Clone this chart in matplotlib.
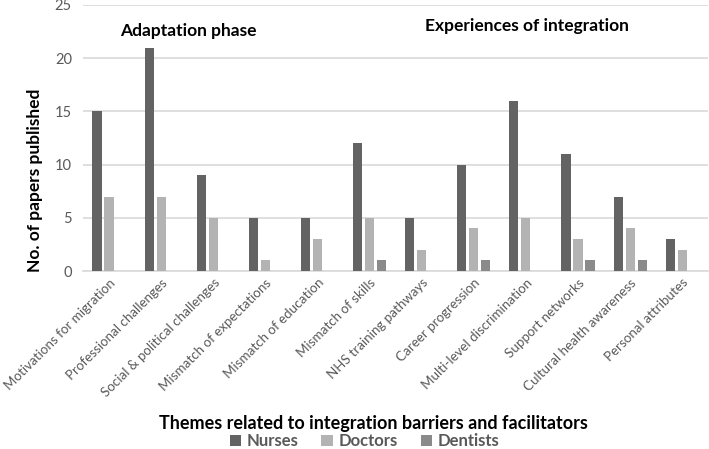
import numpy as np
import matplotlib
matplotlib.use("Agg")
import matplotlib.pyplot as plt

plt.rcParams["font.family"] = ["Lato", "DejaVu Sans"]

themes = [
    "Motivations for migration", "Professional challenges",
    "Social & political challenges", "Mismatch of expectations",
    "Mismatch of education", "Mismatch of skills", "NHS training pathways",
    "Career progression", "Multi-level discrimination", "Support networks",
    "Cultural health awareness", "Personal attributes",
]
nurses = [15, 21, 9, 5, 5, 12, 5, 10, 16, 11, 7, 3]
doctors = [7, 7, 5, 1, 3, 5, 2, 4, 5, 3, 4, 2]
dentists = [0, 0, 0, 0, 0, 1, 0, 1, 0, 1, 1, 0]

series = [("Nurses", nurses, "#636363"),
          ("Doctors", doctors, "#b3b3b3"),
          ("Dentists", dentists, "#8a8a8a")]

fig = plt.figure(figsize=(7.09, 4.49), dpi=100)
ax = fig.add_axes([0.117, 0.3964, 0.882, 0.5925])

x = np.arange(len(themes))
w = 0.175
step = 0.23
for i, (name, vals, col) in enumerate(series):
    ax.bar(x + (i - 1) * step, vals, width=w, color=col, label=name, zorder=3)

ax.set_xlim(-0.5, len(themes) - 0.5)
ax.set_ylim(0, 25)
ax.set_yticks(range(0, 26, 5))
ax.grid(axis="y", color="#d9d9d9", linewidth=1.2, zorder=0)
for s in ["top", "right", "left"]:
    ax.spines[s].set_visible(False)
ax.spines["bottom"].set_color("#d9d9d9")
ax.spines["bottom"].set_linewidth(1.2)
ax.tick_params(axis="both", length=0, colors="#595959", labelsize=10.5)
ax.tick_params(axis="y", pad=8)
ax.tick_params(axis="x", pad=4)
ax.set_xticks(x)
ax.set_xticklabels(themes, rotation=45, ha="right", rotation_mode="anchor",
                   fontsize=9.6)

ax.set_ylabel("No. of papers published", fontsize=12.5, fontweight="bold")
ax.yaxis.label.set_va("center")
ax.yaxis.set_label_coords(-0.077, 0.342)
ax.set_xlabel("Themes related to integration barriers and facilitators",
              fontsize=13, fontweight="bold")
ax.xaxis.set_label_coords(0.465, -0.54)

ax.text(1.53, 22.6, "Adaptation phase", fontsize=12.5, fontweight="bold",
        ha="center", va="center")
ax.text(8.02, 23.0, "Experiences of integration", fontsize=12.5,
        fontweight="bold", ha="center", va="center")

leg = ax.legend(loc="center", bbox_to_anchor=(0.45, -0.64), ncol=3,
                frameon=False, handlelength=0.7, handleheight=0.7,
                columnspacing=1.4, handletextpad=0.3, borderpad=0,
                prop={"weight": "bold", "size": 12})
for t in leg.get_texts():
    t.set_color("#595959")

plt.savefig("out.png", dpi=100)
